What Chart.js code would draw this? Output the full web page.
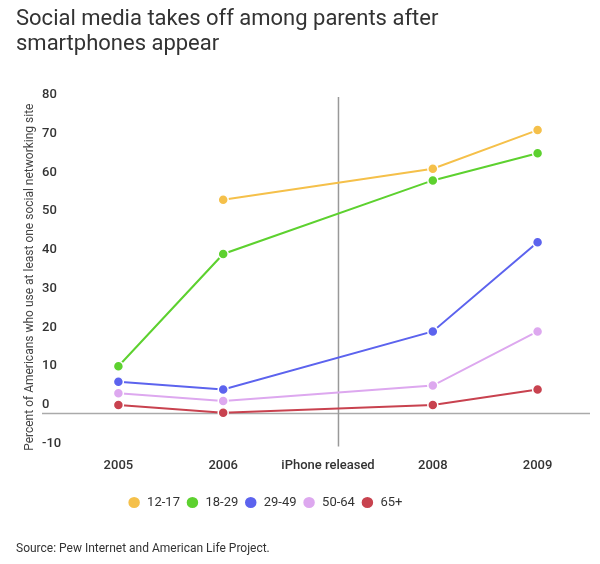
<!DOCTYPE html>
<html>
  <head>
    <script src="https://cdn.jsdelivr.net/npm/chart.js"></script>
    <style>
      body {
        margin: 0;
        padding: 0;
        background-color: #ffffff;
        font-family: Roboto, sans-serif;
      }
      .wrap {
        position: relative;
        width: 600px;
        height: 564px;
      }
      .title {
        position: absolute;
        left: 16px;
        top: 5px;
        font-size: 22px;
        line-height: 25px;
        color: #333333;
      }
      .source {
        position: absolute;
        left: 16px;
        top: 541px;
        font-size: 12px;
        line-height: 14px;
        color: #333333;
      }
      canvas {
        width: 600px !important;
        height: 564px !important;
      }
    </style>
  </head>
  <body>
    <div class="wrap">
      <canvas id="myChart" width="600" height="564"></canvas>
      <div class="title">Social media takes off among parents after<br>smartphones appear</div>
      <div class="source">Source: Pew Internet and American Life Project.</div>
    </div>

    <script>
      const labels = ['2005', '2006', 'iPhone released', '2008', '2009'];
      const ages12to17 = [null, 55, null, 63, 73];
      const ages18to29 = [12, 41, null, 60, 67];
      const ages29to49 = [8, 6, null, 21, 44];
      const ages50to64 = [5, 3, null, 7, 21];
      const ages65plus = [2, 0, null, 2, 6];

      const yTitle = 'Percent of Americans who use at least one social networking site';
      const iphoneIndex = 2.1; // the marker line sits a bit right of its label
      const legendShift = -51; // legend is centred left of the page middle

      function serie(label, data, color) {
        return {
          label: label,
          data: data,
          borderColor: color,
          backgroundColor: color,
          borderWidth: 2,
          pointRadius: 5,
          pointHoverRadius: 5,
          pointBorderColor: '#ffffff',
          pointBorderWidth: 1.5,
          spanGaps: true,
          tension: 0
        };
      }

      // zero line, "iPhone released" marker and the y axis title
      const extraLines = {
        id: 'extraLines',
        afterLayout(chart) {
          chart.legend.left += legendShift;
          chart.legend.right += legendShift;
        },
        beforeDatasetsDraw(chart) {
          const ctx = chart.ctx;
          const x = chart.scales.x;
          const y = chart.scales.y;
          const area = chart.chartArea;
          ctx.save();
          ctx.strokeStyle = '#aaaaaa';
          ctx.lineWidth = 1.5;
          const y0 = Math.round(y.getPixelForValue(0)) + 0.5;
          ctx.beginPath();
          ctx.moveTo(y.left, y0);
          ctx.lineTo(area.right, y0);
          ctx.stroke();
          const xi = x.getPixelForValue(iphoneIndex);
          ctx.strokeStyle = '#999999';
          ctx.beginPath();
          ctx.moveTo(xi, area.top - 6);
          ctx.lineTo(xi, area.bottom - 5);
          ctx.stroke();

          ctx.translate(30, (area.top + area.bottom) / 2);
          ctx.rotate(-Math.PI / 2);
          ctx.fillStyle = '#444444';
          ctx.font = '12px Roboto';
          ctx.textAlign = 'center';
          ctx.textBaseline = 'middle';
          ctx.fillText(yTitle, 0, 0);
          ctx.restore();
        }
      };

      const ctx = document.getElementById('myChart').getContext('2d');
      new Chart(ctx, {
        type: 'line',
        data: {
          labels: labels,
          datasets: [
            serie('12-17', ages12to17, '#f5c04a'),
            serie('18-29', ages18to29, '#5dd12f'),
            serie('29-49', ages29to49, '#5c63ee'),
            serie('50-64', ages50to64, '#dda8ef'),
            serie('65+', ages65plus, '#c8424f')
          ]
        },
        plugins: [extraLines],
        options: {
          responsive: false,
          maintainAspectRatio: false,
          animation: false,
          layout: { padding: { left: 42, right: 10, top: 103, bottom: 45 } },
          plugins: {
            title: { display: false },
            legend: {
              display: true,
              position: 'bottom',
              labels: {
                usePointStyle: true,
                pointStyle: 'circle',
                boxHeight: 9,
                pointStyleWidth: 13,
                padding: 6,
                color: '#333333',
                font: { family: 'Roboto', size: 13 }
              }
            },
            tooltip: { enabled: false }
          },
          scales: {
            x: {
              offset: true,
              grid: { display: false },
              border: { display: false },
              afterFit(scale) { scale.height += 17; },
              ticks: {
                color: '#333333',
                padding: -1,
                maxRotation: 0,
                font: { family: 'Roboto', size: 13, weight: '500' }
              }
            },
            y: {
              min: -10,
              max: 80,
              grid: { display: false },
              border: { display: false },
              afterFit(scale) { scale.width = 24; },
              ticks: {
                stepSize: 10,
                color: '#333333',
                crossAlign: 'far',
                labelOffset: -8,
                padding: 5,
                font: { family: 'Roboto', size: 13, weight: '500' }
              }
            }
          }
        }
      });
    </script>
  </body>
</html>
